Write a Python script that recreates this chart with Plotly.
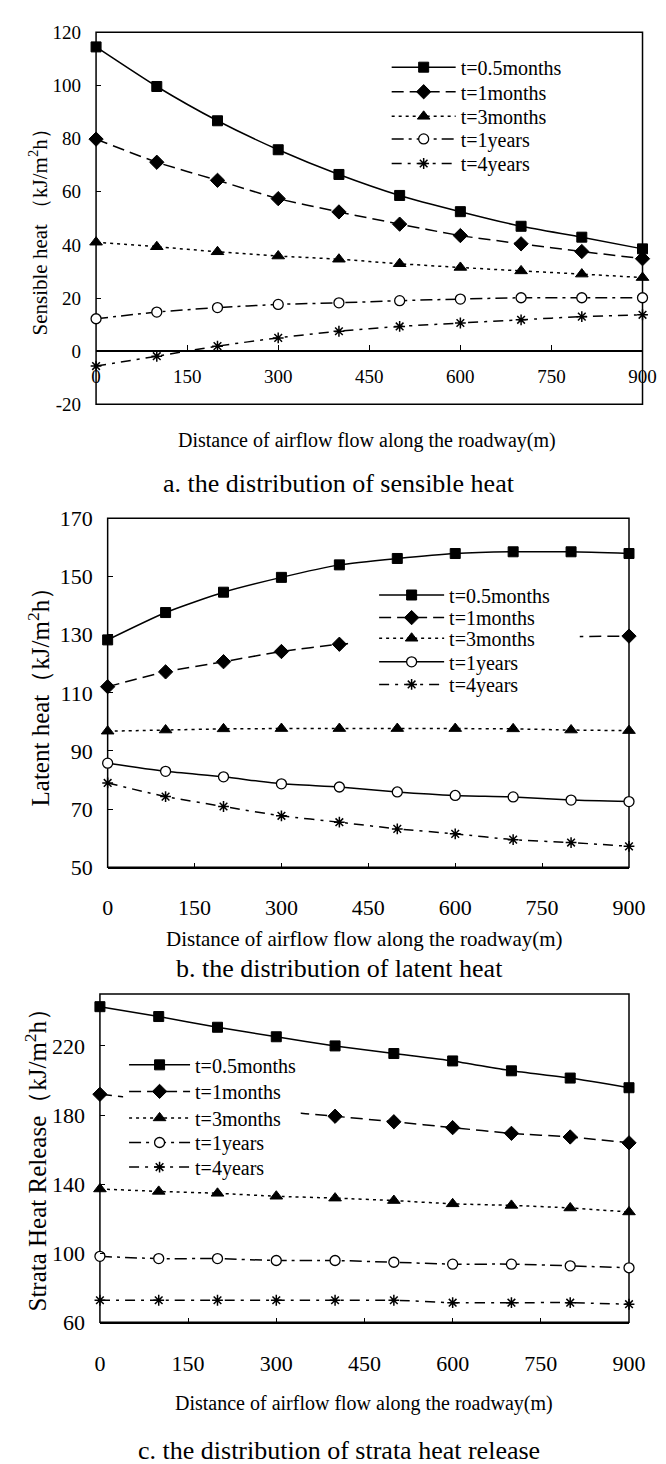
import plotly.graph_objects as go

# ---------------- data ----------------
distance = [0, 100, 200, 300, 400, 500, 600, 700, 800, 900]
series_names = ["t=0.5months", "t=1months", "t=3months", "t=1years", "t=4years"]

sensible_05m = [114.5, 99.6, 86.7, 75.8, 66.5, 58.6, 52.5, 47.0, 42.9, 38.5]
sensible_1m = [79.8, 71.1, 64.3, 57.4, 52.4, 47.8, 43.5, 40.4, 37.5, 34.8]
sensible_3m = [41.0, 39.3, 37.4, 35.8, 34.6, 32.9, 31.5, 30.2, 29.0, 27.7]
sensible_1y = [12.2, 14.7, 16.4, 17.6, 18.2, 19.0, 19.6, 20.1, 20.1, 20.1]
sensible_4y = [-5.6, -1.9, 1.9, 5.0, 7.5, 9.3, 10.6, 11.8, 13.0, 13.7]

latent_05m = [128.2, 137.6, 144.6, 149.7, 154.0, 156.2, 157.9, 158.5, 158.5, 157.9]
latent_1m = [112.1, 117.2, 120.7, 124.2, 126.7, 127.8, 128.5, 129.0, 129.3, 129.5]
latent_3m = [96.8, 97.2, 97.6, 97.7, 97.7, 97.7, 97.7, 97.6, 97.2, 97.0]
latent_1y = [85.8, 83.0, 81.1, 78.7, 77.6, 75.9, 74.7, 74.2, 73.1, 72.6]
latent_4y = [79.0, 74.3, 70.9, 67.7, 65.5, 63.2, 61.5, 59.5, 58.5, 57.2]

strata_05m = [242.7, 237.0, 230.8, 225.3, 220.0, 215.6, 211.3, 205.6, 201.4, 195.8]
strata_1m = [192.0, 188.5, 185.5, 182.3, 179.3, 176.1, 172.7, 169.4, 167.3, 163.9]
strata_3m = [137.2, 135.8, 134.7, 133.0, 131.9, 130.5, 128.6, 127.7, 126.2, 123.9]
strata_1y = [98.2, 96.9, 96.9, 95.8, 95.8, 94.8, 93.7, 93.7, 92.7, 91.6]
strata_4y = [72.8, 72.8, 72.8, 72.8, 72.8, 72.8, 71.4, 71.4, 71.4, 70.5]

x_tickvals = [0, 150, 300, 450, 600, 750, 900]
x_ticktext = ["0", "150", "300", "450", "600", "750", "900"]
ya_tickvals = [-20, 0, 20, 40, 60, 80, 100, 120]
ya_ticktext = ["-20", "0", "20", "40", "60", "80", "100", "120"]
yb_tickvals = [50, 70, 90, 110, 130, 150, 170]
yb_ticktext = ["50", "70", "90", "110", "130", "150", "170"]
yc_tickvals = [60, 100, 140, 180, 220]
yc_ticktext = ["60", "100", "140", "180", "220"]

x_title = "Distance of airflow flow along the roadway(m)"
captions = ["a. the distribution of sensible heat",
            "b. the distribution of latent heat",
            "c. the distribution of strata heat release"]
y_titles = ["Sensible heat （kJ/m<sup>2</sup>h）",
            "Latent heat（kJ/m<sup>2</sup>h）",
            "Strata Heat Release（kJ/m<sup>2</sup>h）"]

# ---------------- layout helpers ----------------
W, H = 666, 1464
FONT = "Liberation Serif, Times New Roman, serif"


def fx(p):
    return p / W


def fy(p):
    return 1 - p / H


# pixel boxes: left, right, top, bottom
boxes = [(85, 651, 12.5, 391), (97, 637, 507, 862), (89, 637, 991, 1325)]
yranges = [[-20, 120], [50, 170], [60, 250]]

styles = [
    dict(symbol="square", size=10, color="black", line=dict(color="black", width=1)),
    dict(symbol="diamond", size=11, color="black", line=dict(color="black", width=1)),
    dict(symbol="triangle-up", size=11, color="black", line=dict(color="black", width=1)),
    dict(symbol="circle", size=10, color="white", line=dict(color="black", width=1.3)),
    dict(symbol="asterisk-open", size=9, color="black", line=dict(color="black", width=1.5)),
]
dashes_default = ["solid", "12px,6px", "3px,4px", "12px,5px,3px,5px", "10px,6px,3px,6px"]

panel_data = [
    [sensible_05m, sensible_1m, sensible_3m, sensible_1y, sensible_4y],
    [latent_05m, latent_1m, latent_3m, latent_1y, latent_4y],
    [strata_05m, strata_1m, strata_3m, strata_1y, strata_4y],
]

# legend geometry (pixels): line-start x, item width, row centres
legend_geo = [
    (391, 64, [48, 73, 98, 121, 146]),
    (378, 65, [585, 608, 629, 653, 676]),
    (119, 61, [1063, 1090, 1117, 1142, 1167]),
]
# white legend background areas (pixels): x0, x1, y0, y1
legend_bg = [(388, 600, 34, 160), (346, 586, 572, 690), (113, 297, 1048, 1180)]

fig = go.Figure()
layout = dict(
    width=W, height=H,
    margin=dict(l=0, r=0, t=0, b=0),
    paper_bgcolor="white", plot_bgcolor="rgba(0,0,0,0)",
    font=dict(family=FONT, color="black"),
    showlegend=True,
    shapes=[], annotations=[],
)

legend_counter = 0
for p in range(3):
    xa = "x" if p == 0 else f"x{p + 1}"
    ya = "y" if p == 0 else f"y{p + 1}"
    l, r, t, b = boxes[p]
    for i, name in enumerate(series_names):
        legend_counter += 1
        lid = "legend" if legend_counter == 1 else f"legend{legend_counter}"
        dash = dashes_default[i]
        if p == 1 and i == 3:
            dash = "solid"
        fig.add_trace(go.Scatter(
            x=distance, y=panel_data[p][i], name=name, mode="lines+markers",
            xaxis=xa, yaxis=ya, legend=lid, cliponaxis=False, showlegend=True,
            line=dict(color="black", width=1.5, dash=dash, shape="spline", smoothing=0.6),
            marker=styles[i],
        ))
        lx, iw, rows = legend_geo[p]
        layout[lid] = dict(
            x=fx(lx - 5), y=fy(rows[i]), xanchor="left", yanchor="middle",
            bgcolor="rgba(0,0,0,0)", borderwidth=0, itemwidth=iw,
            font=dict(family=FONT, size=20, color="black"),
            tracegroupgap=0, visible=True,
        )

    xdom = [fx(l), fx(r)]
    ydom = [fy(b), fy(t)]
    yr = yranges[p]
    xkey = "xaxis" if p == 0 else f"xaxis{p + 1}"
    ykey = "yaxis" if p == 0 else f"yaxis{p + 1}"
    tick_font = [19, 22, 22][p]
    xaxis = dict(
        domain=xdom, range=[0, 900], tickvals=x_tickvals, ticktext=x_ticktext,
        showgrid=False, zeroline=False, ticks="inside", ticklen=5, tickwidth=1.2,
        tickcolor="black", tickfont=dict(family=FONT, size=tick_font, color="black"),
        showline=True, linecolor="black", linewidth=1.5,
    )
    if p == 0:
        zero_pos = ydom[0] + (0 - yr[0]) / (yr[1] - yr[0]) * (ydom[1] - ydom[0])
        xaxis.update(anchor="free", position=zero_pos, ticklabelstandoff=8)
    else:
        xaxis.update(anchor=ya, ticklabelstandoff=[0, 20, 20][p])
    yticks = [(ya_tickvals, ya_ticktext), (yb_tickvals, yb_ticktext), (yc_tickvals, yc_ticktext)][p]
    yaxis = dict(
        domain=ydom, range=yr, tickvals=yticks[0], ticktext=yticks[1], anchor=xa,
        showgrid=False, zeroline=False, ticks="inside", ticklen=5, tickwidth=1.2,
        tickcolor="black", tickfont=dict(family=FONT, size=tick_font, color="black"),
        showline=False, ticklabelstandoff=14,
    )
    layout[xkey] = xaxis
    layout[ykey] = yaxis

    # plot box
    layout["shapes"].append(dict(
        type="rect", xref=f"{xa} domain", yref=f"{ya} domain", x0=0, x1=1, y0=0, y1=1,
        line=dict(color="black", width=1.5), layer="below"))
    # legend background (opaque, hides lines behind legend)
    bx0, bx1, by0, by1 = legend_bg[p]
    layout["shapes"].append(dict(
        type="rect", xref="paper", yref="paper", x0=fx(bx0), x1=fx(bx1), y0=fy(by1), y1=fy(by0),
        fillcolor="white", line=dict(width=0), layer="above"))

# text annotations (pixels)
ytitle_pos = [(25, 211, 21), (26, 682, 25), (23, 1153, 25)]
xtitle_pos = [(366, 428, 20), (363, 935, 21), (363, 1408, 20)]
caption_pos = [(337, 472), (337, 965), (337, 1455)]
for p in range(3):
    x0, y0, s = ytitle_pos[p]
    layout["annotations"].append(dict(
        text=y_titles[p], x=fx(x0), y=fy(y0), xref="paper", yref="paper",
        textangle=-90, showarrow=False, xanchor="center", yanchor="middle",
        font=dict(family=FONT, size=s, color="black")))
    x0, y0, s = xtitle_pos[p]
    layout["annotations"].append(dict(
        text=x_title, x=fx(x0), y=fy(y0), xref="paper", yref="paper",
        showarrow=False, xanchor="center", yanchor="middle",
        font=dict(family=FONT, size=s, color="black")))
    x0, y0 = caption_pos[p]
    layout["annotations"].append(dict(
        text=captions[p], x=fx(x0), y=fy(y0), xref="paper", yref="paper",
        showarrow=False, xanchor="center", yanchor="middle",
        font=dict(family=FONT, size=26, color="black")))

fig.update_layout(**layout)
fig.write_html("out.html")
